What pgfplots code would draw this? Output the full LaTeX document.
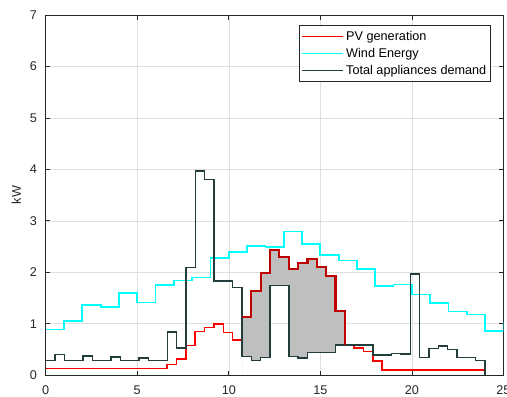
\documentclass[border=0pt]{standalone}
\usepackage{fontspec}
\setmainfont{Liberation Sans}
\usepackage{pgfplots}
\usepackage{pgfplotstable}
\pgfplotsset{compat=1.18}

\definecolor{axc}{RGB}{38,38,38}
\definecolor{gridc}{RGB}{223,223,223}
\definecolor{pvc}{RGB}{255,0,0}
\definecolor{windc}{RGB}{0,255,255}
\definecolor{demc}{RGB}{35,60,60}
\definecolor{edgec}{RGB}{190,0,0}
\definecolor{fillc}{RGB}{191,191,191}

\pgfplotstableread{
x y
0.0000 0.13
0.5106 0.13
1.0213 0.13
1.5319 0.13
2.0426 0.13
2.5532 0.13
3.0638 0.13
3.5745 0.13
4.0851 0.13
4.5957 0.13
5.1064 0.13
5.6170 0.13
6.1277 0.13
6.6383 0.21
7.1489 0.32
7.6596 0.58
8.1702 0.85
8.6809 0.93
9.1915 0.99
9.7021 0.83
10.2128 0.68
10.7234 1.13
11.2340 1.63
11.7447 1.99
12.2553 2.43
12.7660 2.29
13.2766 2.07
13.7872 2.18
14.2979 2.25
14.8085 2.11
15.3191 1.92
15.8298 1.24
16.3404 0.58
16.8511 0.53
17.3617 0.46
17.8723 0.28
18.3830 0.10
18.8936 0.10
19.4043 0.10
19.9149 0.10
20.4255 0.10
20.9362 0.10
21.4468 0.10
21.9574 0.10
22.4681 0.10
22.9787 0.10
23.4894 0.10
24.0000 0.00
}\pvtable

\pgfplotstableread{
x y
10.7234 1.13
11.2340 1.63
11.7447 1.99
12.2553 2.43
12.7660 2.29
13.2766 2.07
13.7872 2.18
14.2979 2.25
14.8085 2.11
15.3191 1.92
15.8298 1.24
16.3404 0.58
}\pvsurplus

% surplus area: PV steps above, demand steps below
\pgfplotstableread{
x y
10.7234 1.13
11.2340 1.13
11.2340 1.63
11.7447 1.63
11.7447 1.99
12.2553 1.99
12.2553 2.43
12.7660 2.43
12.7660 2.29
13.2766 2.29
13.2766 2.07
13.7872 2.07
13.7872 2.18
14.2979 2.18
14.2979 2.25
14.8085 2.25
14.8085 2.11
15.3191 2.11
15.3191 1.92
15.8298 1.92
15.8298 1.24
16.3404 1.24
16.3404 0.59
15.8298 0.59
15.8298 0.44
14.2979 0.44
14.2979 0.33
13.7872 0.33
13.7872 0.36
13.2766 0.36
13.2766 1.74
12.2553 1.74
12.2553 0.34
11.7447 0.34
11.7447 0.28
11.2340 0.28
11.2340 0.36
10.7234 0.36
}\surplusarea

\pgfplotstableread{
x y
0 0.89
1 1.05
2 1.36
3 1.33
4 1.60
5 1.41
6 1.75
7 1.84
8 1.90
9 2.28
10 2.40
11 2.51
12 2.49
13 2.79
14 2.55
15 2.33
16 2.23
17 2.06
18 1.74
19 1.76
20 1.57
21 1.40
22 1.24
23 1.18
24 0.86
25 1.03
}\windtable

\pgfplotstableread{
x y
0.0000 0.28
0.5106 0.40
1.0213 0.28
1.5319 0.28
2.0426 0.37
2.5532 0.28
3.0638 0.28
3.5745 0.35
4.0851 0.28
4.5957 0.28
5.1064 0.33
5.6170 0.28
6.1277 0.28
6.6383 0.84
7.1489 0.53
7.6596 2.09
8.1702 3.97
8.6809 3.80
9.1915 1.83
9.7021 1.83
10.2128 1.70
10.7234 0.36
11.2340 0.28
11.7447 0.34
12.2553 1.74
12.7660 1.74
13.2766 0.36
13.7872 0.33
14.2979 0.44
14.8085 0.44
15.3191 0.44
15.8298 0.59
16.3404 0.59
16.8511 0.59
17.3617 0.59
17.8723 0.39
18.3830 0.39
18.8936 0.42
19.4043 0.41
19.9149 1.97
20.4255 0.34
20.9362 0.52
21.4468 0.57
21.9574 0.50
22.4681 0.34
22.9787 0.34
23.4894 0.29
24.0000 0.00
}\demtable

\begin{document}
\begin{tikzpicture}
\begin{axis}[
  at={(0,0)}, anchor=south west,
  scale only axis, width=343.35pt, height=270.2pt,
  xmin=0, xmax=25, ymin=0, ymax=7,
  xtick={0,5,10,15,20,25}, ytick={0,1,2,3,4,5,6,7},
  grid=major, major grid style={gridc, line width=0.4pt},
  axis line style={axc, line width=0.5pt},
  every tick/.style={axc, line width=0.5pt},
  tick align=inside, major tick length=3.5pt,
  tick label style={font=\fontsize{9.5}{11}\selectfont, text=axc},
  /pgf/number format/assume math mode=true,
  yticklabel style={xshift=-3.1pt},
  xticklabel style={yshift=-4.4pt},
  ylabel={kW},
  ylabel style={at={(axis description cs:-0.0642,0.5)}, anchor=center, font=\fontsize{9.5}{11}\selectfont, text=axc},
  legend style={at={(axis description cs:0.9727,0.9722)}, anchor=north east,
    font=\fontsize{9.5}{11}\selectfont, draw=axc, line width=0.5pt,
    inner xsep=1.7pt, inner ysep=2pt, row sep=0pt,
    nodes={inner xsep=1.5pt, inner ysep=2.2pt}},
  legend cell align=left,
  legend image code/.code={\draw[#1, line width=1.3pt] (0pt,0pt) -- (31pt,0pt);},
]
\addplot[fill=fillc, draw=none, forget plot] table {\surplusarea} \closedcycle;
\addplot[const plot, pvc, line width=1.2pt] table {\pvtable};
\addlegendentry{PV generation}
\addplot[const plot, windc, line width=1.3pt] table {\windtable};
\addlegendentry{Wind Energy}
\addplot[const plot, demc, line width=1.1pt] table {\demtable};
\addlegendentry{Total appliances demand}
\addplot[const plot, edgec, line width=1.6pt, forget plot] table {\pvsurplus};
\end{axis}
\pgfresetboundingbox
\useasboundingbox (-34.3pt,-16.3pt) rectangle (346.05pt,281.45pt);
\end{tikzpicture}
\end{document}
